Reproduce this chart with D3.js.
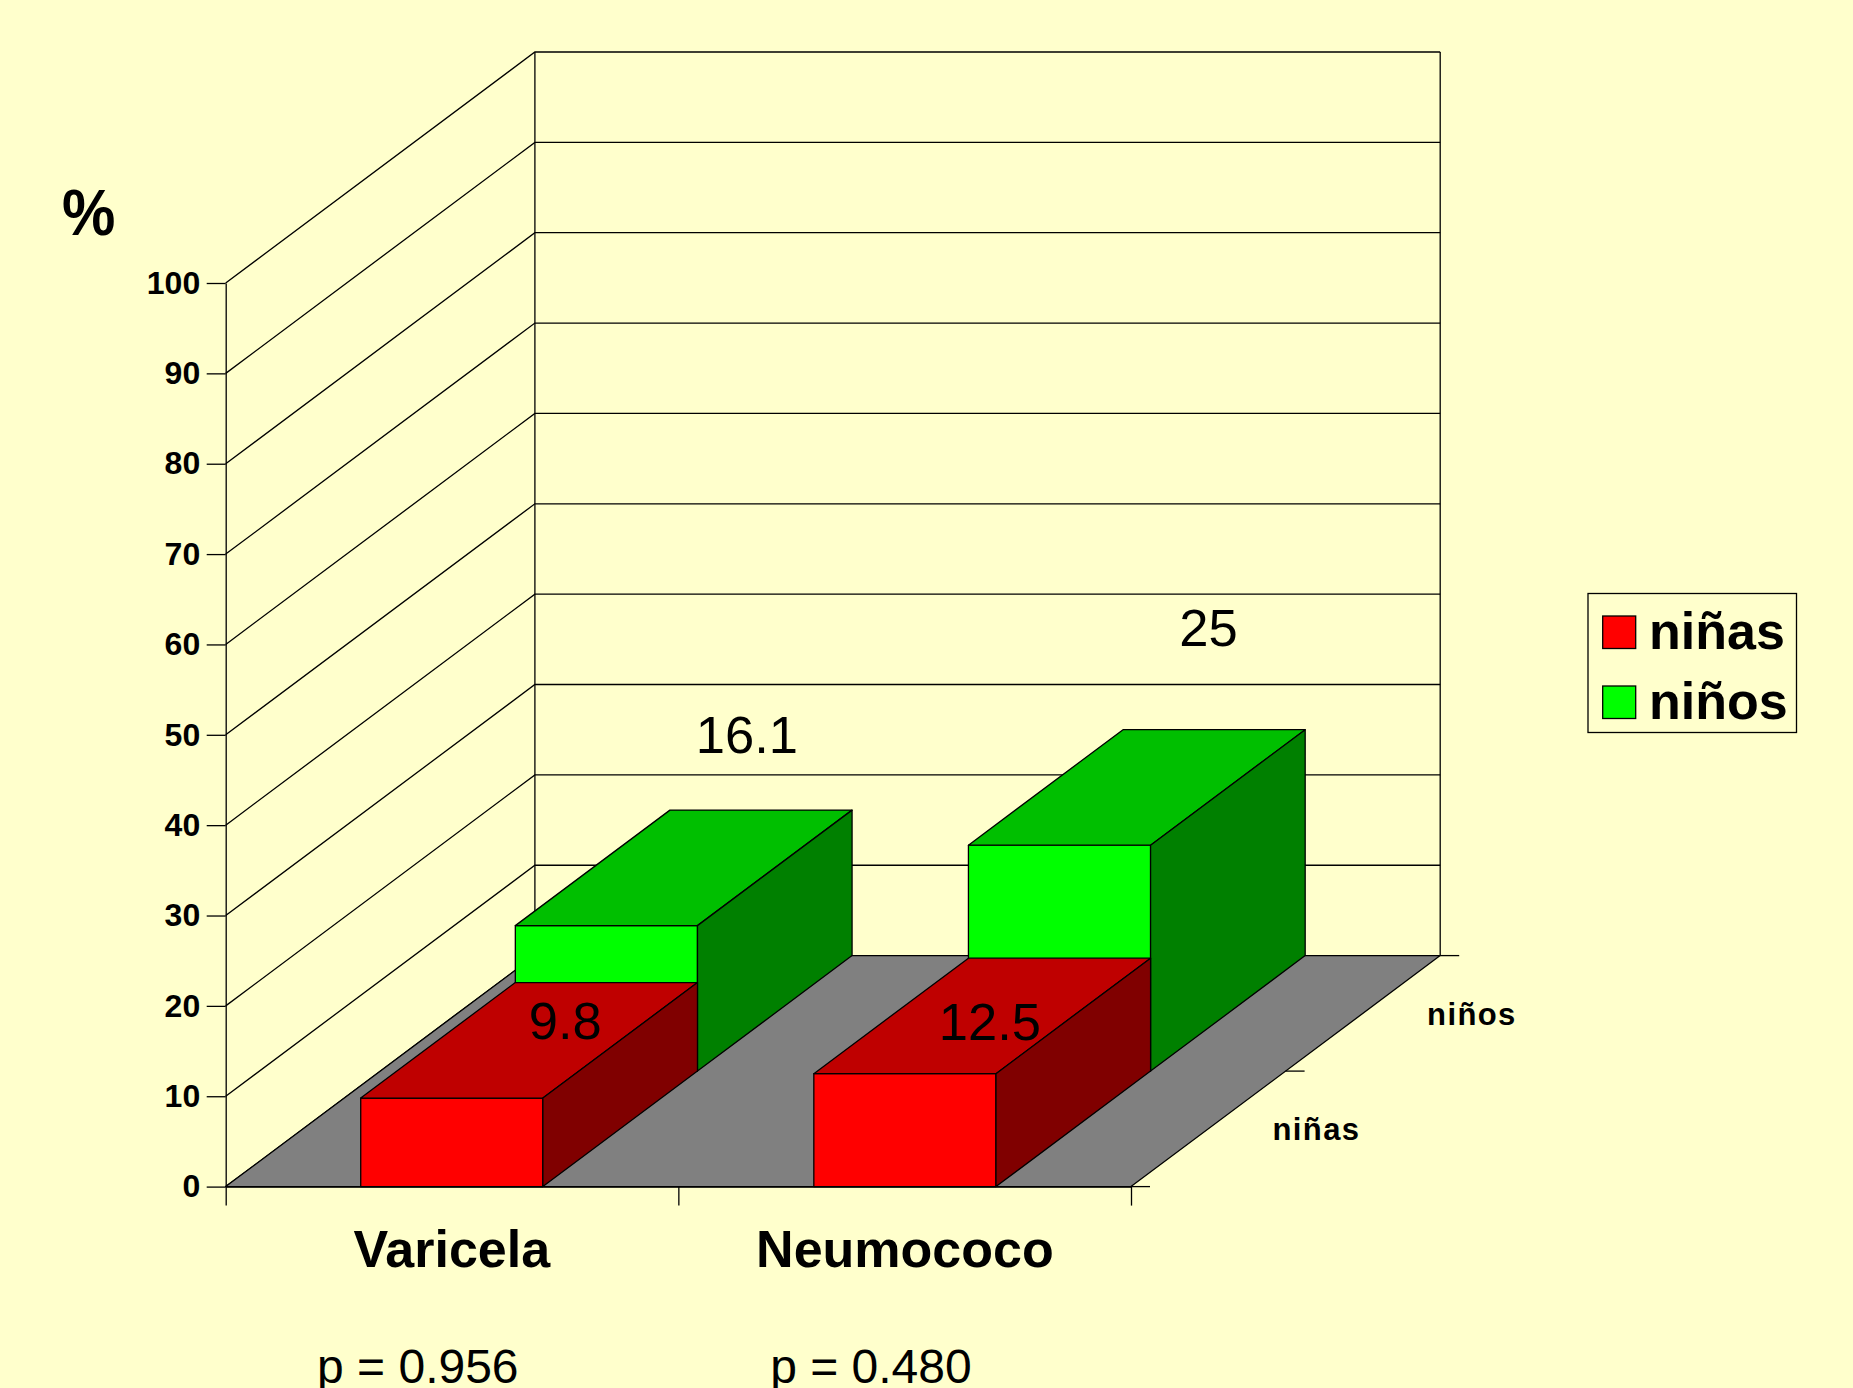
<!DOCTYPE html>
<html>
<head>
<meta charset="utf-8">
<script src="https://cdn.jsdelivr.net/npm/d3@7"></script>
<style>
  html, body { margin: 0; padding: 0; background: #ffffcc; }
  svg { display: block; font-family: "Liberation Sans", Arial, sans-serif; }
  .axis text { font-weight: bold; font-size: 32px; fill: #000; }
  .axis line, .axis path { stroke: #000; stroke-width: 1.3; fill: none; }
  .grid { stroke: #000; stroke-width: 1.3; fill: none; }
  .face { stroke: #000; stroke-width: 1.3; stroke-linejoin: round; }
</style>
</head>
<body>
<svg id="chart" width="1853" height="1388"></svg>
<script>
var categories = ["Varicela", "Neumococo"],
  pValues = ["p = 0.956", "p = 0.480"],
  seriesNames = ["niñas", "niños"],
  ninas = [9.8, 12.5],
  ninos = [16.1, 25],
  yTicks = [0, 10, 20, 30, 40, 50, 60, 70, 80, 90, 100];

var svg = d3.select("#chart");

// front plane scales, depth is an extra shear on top of them
var x = d3.scaleLinear().domain([0, categories.length]).range([225.7, 1131]);
var y = d3.scaleLinear().domain([0, 100]).range([1186.6, 283]);
var band = d3.scaleBand().domain(categories).range(x.range()).paddingInner(0.598).paddingOuter(0.298);
var depth = d3.scaleLinear().domain([0, seriesNames.length]).range([0, 1]);
var depthX = d3.scaleLinear().domain([0, 1]).range([0, 309.2]);
var depthY = d3.scaleLinear().domain([0, 1]).range([0, -231]);

// px = front plane x, v = value, z = 0..1 front to back
function pt(px, v, z) {
  return [px + depthX(z), y(v) + depthY(z)];
}
function poly(g, points, fill, cls) {
  return g.append("polygon")
    .attr("class", cls || "face")
    .attr("fill", fill)
    .attr("points", points.map(function (p) { return p.join(","); }).join(" "));
}

svg.append("rect").attr("width", 1853).attr("height", 1388).attr("fill", "#ffffcc");

var x0 = x.range()[0], x1 = x.range()[1];

// walls
var walls = svg.append("g");
yTicks.forEach(function (t) {
  var a = pt(x0, t, 0), b = pt(x0, t, 1), c = pt(x1, t, 1);
  walls.append("path").attr("class", "grid").attr("d", d3.line()([a, b, c]));
});
[x0, x1].forEach(function (px) {
  walls.append("path").attr("class", "grid").attr("d", d3.line()([pt(px, 0, 1), pt(px, 100, 1)]));
});

// floor
poly(svg, [pt(x0, 0, 0), pt(x1, 0, 0), pt(x1, 0, 1), pt(x0, 0, 1)], "#808080");

// axes
svg.append("g")
  .attr("class", "axis")
  .attr("transform", "translate(" + x0 + ",0)")
  .call(d3.axisLeft(y).tickValues(yTicks).tickSize(19).tickPadding(6.5).tickSizeOuter(0));

svg.append("g")
  .attr("class", "axis")
  .attr("transform", "translate(0," + y(0) + ")")
  .call(d3.axisBottom(x).tickValues(d3.range(categories.length + 1)).tickSize(19).tickSizeOuter(0).tickFormat(""));

// ticks of the depth axis, on the right edge of the floor
var depthTicks = d3.range(seriesNames.length + 1).map(depth);
svg.append("g").selectAll("path")
  .data(depthTicks)
  .join("path")
  .attr("class", "grid")
  .attr("d", function (z) {
    var p = pt(x1, 0, z);
    return d3.line()([p, [p[0] + 19, p[1]]]);
  });

// one box: back series first so the front one paints over it
function box(g, cat, value, z0, z1, front, top, side) {
  var l = band(cat), r = band(cat) + band.bandwidth();
  poly(g, [pt(l, 0, z0), pt(r, 0, z0), pt(r, value, z0), pt(l, value, z0)], front);
  poly(g, [pt(l, value, z0), pt(r, value, z0), pt(r, value, z1), pt(l, value, z1)], top);
  poly(g, [pt(r, 0, z0), pt(r, 0, z1), pt(r, value, z1), pt(r, value, z0)], side);
}

var bars = svg.append("g");
categories.forEach(function (c, i) {
  box(bars, c, ninos[i], depth(1), depth(2), "#00ff00", "#00bf00", "#008000");
});
categories.forEach(function (c, i) {
  box(bars, c, ninas[i], depth(0), depth(1), "#ff0000", "#bf0000", "#800000");
});

// value labels were placed by hand on the slide, offset from the front top of each box
var labels = [
  { v: ninas[0], c: 0, z: 0, dx: 113.5, dy: -59 },
  { v: ninas[1], c: 1, z: 0, dx: 85, dy: -34 },
  { v: ninos[0], c: 0, z: 1, dx: 140.5, dy: -172.5 },
  { v: ninos[1], c: 1, z: 1, dx: 149, dy: -199 }
];
svg.append("g").selectAll("text")
  .data(labels)
  .join("text")
  .attr("text-anchor", "middle")
  .attr("font-size", 52.5)
  .attr("x", function (d) { return pt(band(categories[d.c]) + band.bandwidth() / 2, d.v, depth(d.z))[0] + d.dx; })
  .attr("y", function (d) { return pt(0, d.v, depth(d.z))[1] + d.dy; })
  .text(function (d) { return d.v; });

// category names and p values
svg.append("g").selectAll("text")
  .data(categories)
  .join("text")
  .attr("text-anchor", "middle")
  .attr("font-size", 52)
  .attr("font-weight", "bold")
  .attr("x", function (d) { return band(d) + band.bandwidth() / 2; })
  .attr("y", 1266.5)
  .text(function (d) { return d; });

svg.append("g").selectAll("text")
  .data(pValues)
  .join("text")
  .attr("text-anchor", "middle")
  .attr("font-size", 48)
  .attr("x", function (d, i) { return band(categories[i]) + band.bandwidth() / 2 - 34; })
  .attr("y", 1383)
  .text(function (d) { return d; });

// depth axis labels
svg.append("g").selectAll("text")
  .data(seriesNames)
  .join("text")
  .attr("font-size", 31)
  .attr("font-weight", "bold")
  .attr("letter-spacing", 1.4)
  .attr("x", function (d, i) { return pt(x1, 0, depth(i))[0] + 141.5; })
  .attr("y", function (d, i) { return pt(x1, 0, depth(i))[1] - 46.5; })
  .text(function (d) { return d; });

// y title, a little taller than the font as in the slide
svg.append("text")
  .attr("transform", "translate(62,235) scale(1,1.07)")
  .attr("font-size", 60).attr("font-weight", "bold")
  .text("%");

// legend
var legend = svg.append("g").attr("transform", "translate(1588,593.5)");
legend.append("rect")
  .attr("width", 208.5).attr("height", 139)
  .attr("fill", "none").attr("stroke", "#000").attr("stroke-width", 1.3);
var legendY = d3.scalePoint().domain(seriesNames).range([55, 125]);
var legendColor = d3.scaleOrdinal().domain(seriesNames).range(["#ff0000", "#00ff00"]);
var item = legend.selectAll("g").data(seriesNames).join("g")
  .attr("transform", function (d) { return "translate(0," + legendY(d) + ")"; });
item.append("rect")
  .attr("x", 14.7).attr("y", -32.5).attr("width", 33).attr("height", 32.5)
  .attr("fill", legendColor).attr("stroke", "#000").attr("stroke-width", 1.3);
item.append("text")
  .attr("x", 61).attr("font-size", 52).attr("font-weight", "bold")
  .text(function (d) { return d; });
</script>
</body>
</html>
